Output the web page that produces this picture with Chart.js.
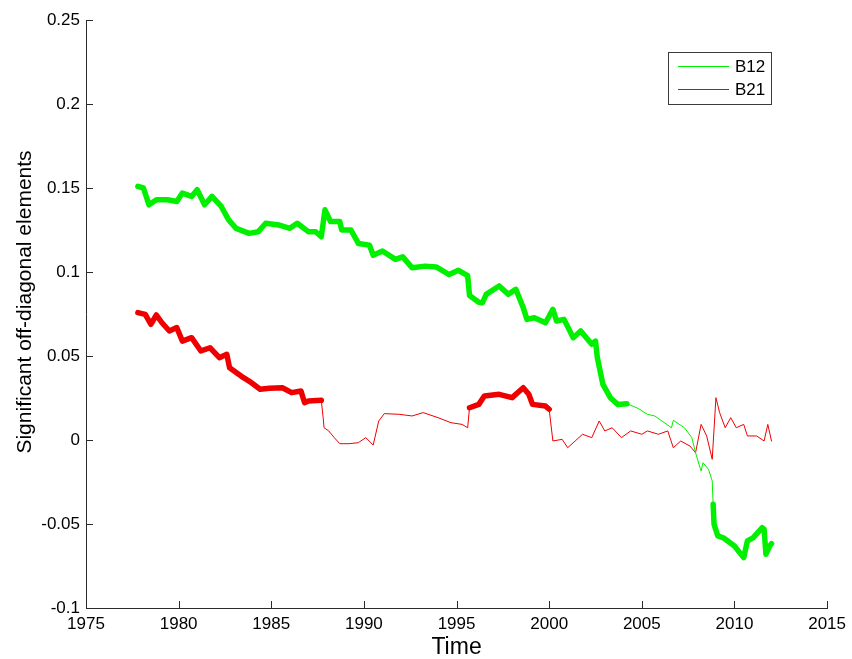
<!DOCTYPE html>
<html>
<head>
<meta charset="utf-8">
<script src="https://cdn.jsdelivr.net/npm/chart.js@4/dist/chart.umd.min.js"></script>
<style>
html,body{margin:0;padding:0;background:#fff;}
#wrap{width:852px;height:659px;position:relative;}
</style>
</head>
<body>
<div id="wrap"><canvas id="c" width="852" height="659"></canvas></div>
<script>
// ---- data ----
const seriesNames = ["B12", "B21"];
const xTicks = [1975, 1980, 1985, 1990, 1995, 2000, 2005, 2010, 2015];
const yTicks = [-0.1, -0.05, 0, 0.05, 0.1, 0.15, 0.2, 0.25];
const xTitle = 'Time';
const yTitle = 'Significant off-diagonal elements';

const b12Years = [1977.8,1978.1,1978.4,1978.8,1979.4,1979.9,1980.2,1980.7,1981.0,1981.4,1981.8,1982.3,1982.7,1983.1,1983.8,1984.3,1984.7,1985.4,1986.0,1986.4,1987.0,1987.4,1987.7,1987.9,1988.2,1988.7,1988.8,1989.3,1989.7,1990.3,1990.5,1991.0,1991.7,1992.1,1992.6,1993.3,1993.9,1994.6,1995.1,1995.6,1995.7,1996.2,1996.4,1996.6,1997.3,1997.8,1998.2,1998.6,1998.8,1999.2,1999.8,2000.2,2000.4,2000.8,2001.3,2001.7,2002.3,2002.5,2002.6,2002.9,2003.3,2003.7,2004.2,2004.8,2005.3,2005.7,2006.6,2006.7,2007.3,2007.7,2007.9,2008.2,2008.3,2008.6,2008.8,2008.85,2008.9,2009.1,2009.4,2010.0,2010.5,2010.7,2011.0,2011.5,2011.6,2011.7,2011.9,2012.0];
const b12Values = [0.151,0.150,0.140,0.143,0.143,0.142,0.147,0.145,0.149,0.140,0.145,0.139,0.131,0.126,0.123,0.124,0.129,0.128,0.126,0.129,0.124,0.124,0.121,0.137,0.130,0.130,0.125,0.125,0.117,0.116,0.110,0.1125,0.1075,0.109,0.1025,0.1035,0.103,0.0985,0.101,0.0978,0.086,0.082,0.0817,0.0867,0.0917,0.0867,0.0897,0.0788,0.0718,0.0728,0.0698,0.0778,0.0708,0.0718,0.0609,0.0649,0.057,0.0589,0.049,0.0331,0.0252,0.0212,0.0216,0.0188,0.0153,0.0143,0.0073,0.0117,0.0073,0.0014,-0.0076,-0.0185,-0.0135,-0.0175,-0.0244,-0.0383,-0.0502,-0.0571,-0.0582,-0.0631,-0.070,-0.0601,-0.0582,-0.0522,-0.0532,-0.068,-0.0631,-0.0617];

const b21Years = [1977.8,1978.2,1978.5,1978.8,1979.1,1979.5,1979.9,1980.2,1980.7,1981.2,1981.7,1982.2,1982.6,1982.75,1983.5,1983.8,1984.4,1984.9,1985.6,1986.1,1986.6,1986.8,1987.0,1987.7,1987.8,1987.85,1988.1,1988.4,1988.7,1989.2,1989.7,1990.1,1990.5,1990.8,1991.1,1991.9,1992.6,1993.2,1994.0,1994.7,1995.3,1995.6,1995.7,1996.2,1996.5,1997.3,1998.0,1998.6,1998.9,1999.1,1999.8,2000.0,2000.2,2000.7,2001.0,2001.4,2001.8,2002.3,2002.7,2003.0,2003.4,2003.9,2004.4,2005.0,2005.3,2005.9,2006.4,2006.7,2007.1,2007.6,2007.9,2008.2,2008.5,2008.8,2009.0,2009.2,2009.5,2009.8,2010.1,2010.5,2010.7,2011.2,2011.6,2011.8,2012.0];
const b21Values = [0.0758,0.0748,0.0689,0.0744,0.0698,0.0649,0.0669,0.0589,0.0609,0.053,0.0549,0.049,0.051,0.043,0.0371,0.0351,0.0302,0.0308,0.0311,0.0282,0.0292,0.0222,0.0232,0.0236,0.0133,0.0073,0.0054,0.0014,-0.0022,-0.0022,-0.0016,0.0014,-0.003,0.0113,0.0157,0.0153,0.0143,0.0163,0.0133,0.0103,0.0093,0.0073,0.0192,0.0212,0.0262,0.0272,0.0252,0.0311,0.0272,0.0212,0.0202,0.0183,-0.0006,0.0004,-0.0046,-0.0006,0.0034,0.0014,0.0113,0.0054,0.0073,0.0014,0.0054,0.0034,0.0054,0.0034,0.0054,-0.0046,-0.0006,-0.0036,-0.0076,0.0093,0.0024,-0.0115,0.0252,0.0163,0.0073,0.0133,0.0073,0.0093,0.0024,0.0024,-0.0006,0.0093,-0.0006];

// periods in which the element is significant (drawn with markers / thick)
const b12SigPeriods = [[1977.8, 2004.2], [2008.85, 2012.0]];
const b21SigPeriods = [[1977.8, 1987.7], [1995.7, 2000.0]];

// ---- build chart ----
const toPoints = (xs, ys) => xs.map((x, i) => ({x: x, y: ys[i]}));
const inPeriods = (periods) => (ctx) => {
  const a = ctx.p0.parsed.x, b = ctx.p1.parsed.x;
  for (const p of periods) { if (a >= p[0] - 1e-9 && b <= p[1] + 1e-9) return 5.5; }
  return 1;
};

const AXIS = '#2b2b2b';
const FONT = "'Liberation Sans', Arial, sans-serif";

const decorations = {
  id: 'decorations',
  afterDraw(chart) {
    const {ctx, chartArea: ca, scales: {x, y}} = chart;
    ctx.save();
    ctx.strokeStyle = AXIS;
    ctx.lineWidth = 1;
    ctx.beginPath();
    xTicks.forEach(v => {
      const px = Math.round(x.getPixelForValue(v)) + 0.5;
      ctx.moveTo(px, ca.bottom); ctx.lineTo(px, ca.bottom - 7);
    });
    yTicks.forEach(v => {
      const py = Math.round(y.getPixelForValue(v)) + 0.5;
      ctx.moveTo(ca.left, py); ctx.lineTo(ca.left + 7, py);
    });
    ctx.stroke();

    // y axis title
    ctx.save();
    ctx.translate(25, 302);
    ctx.rotate(-Math.PI / 2);
    ctx.fillStyle = '#000';
    ctx.font = '21px ' + FONT;
    ctx.textAlign = 'center';
    ctx.textBaseline = 'middle';
    ctx.fillText(yTitle, 0, 0);
    ctx.restore();

    // legend box
    const bx = 668.5, by = 52.5, bw = 103, bh = 52;
    ctx.fillStyle = '#fff';
    ctx.fillRect(bx, by, bw, bh);
    ctx.strokeStyle = '#3a3a3a';
    ctx.strokeRect(bx, by, bw, bh);
    const rows = [66, 89];
    chart.data.datasets.forEach((ds, i) => {
      ctx.strokeStyle = ds.borderColor;
      ctx.lineWidth = 1;
      ctx.beginPath();
      ctx.moveTo(678, rows[i] + 0.5); ctx.lineTo(729, rows[i] + 0.5);
      ctx.stroke();
      ctx.fillStyle = '#000';
      ctx.font = '17px ' + FONT;
      ctx.textBaseline = 'middle';
      ctx.textAlign = 'left';
      ctx.fillText(ds.label, 735, rows[i] + 1);
    });
    ctx.restore();
  }
};

new Chart(document.getElementById('c'), {
  type: 'line',
  data: {
    datasets: [
      {label: seriesNames[0], data: toPoints(b12Years, b12Values), borderColor: '#00f000',
       borderWidth: 1, pointRadius: 0, tension: 0, borderJoinStyle: 'round', borderCapStyle: 'round',
       segment: {borderWidth: inPeriods(b12SigPeriods)}},
      {label: seriesNames[1], data: toPoints(b21Years, b21Values), borderColor: '#ee0000',
       borderWidth: 1, pointRadius: 0, tension: 0, borderJoinStyle: 'round', borderCapStyle: 'round',
       segment: {borderWidth: inPeriods(b21SigPeriods)}}
    ]
  },
  options: {
    responsive: false,
    animation: false,
    events: [],
    layout: {padding: {top: 20, right: 21, left: 0, bottom: 0}},
    plugins: {legend: {display: false}, tooltip: {enabled: false}},
    scales: {
      x: {
        type: 'linear', min: 1975, max: 2015,
        afterFit: (s) => { s.height = 51; },
        afterBuildTicks: (s) => { s.ticks = xTicks.map(v => ({value: v})); },
        grid: {display: false, drawTicks: false},
        border: {display: true, color: AXIS, width: 1},
        ticks: {color: '#000', font: {family: FONT, size: 17}, padding: 6, maxRotation: 0,
                callback: (v) => String(v)},
        title: {display: true, text: xTitle, color: '#000', font: {family: FONT, size: 23, lineHeight: 1.0},
                padding: {top: 0, bottom: 0}}
      },
      y: {
        type: 'linear', min: -0.1, max: 0.25,
        afterFit: (s) => { s.width = 86; },
        afterBuildTicks: (s) => { s.ticks = yTicks.map(v => ({value: v})); },
        grid: {display: false, drawTicks: false},
        border: {display: true, color: AXIS, width: 1},
        ticks: {color: '#000', font: {family: FONT, size: 17}, padding: 6,
                callback: (v) => String(parseFloat(Number(v).toFixed(3)))}
      }
    }
  },
  plugins: [decorations]
});
</script>
</body>
</html>
